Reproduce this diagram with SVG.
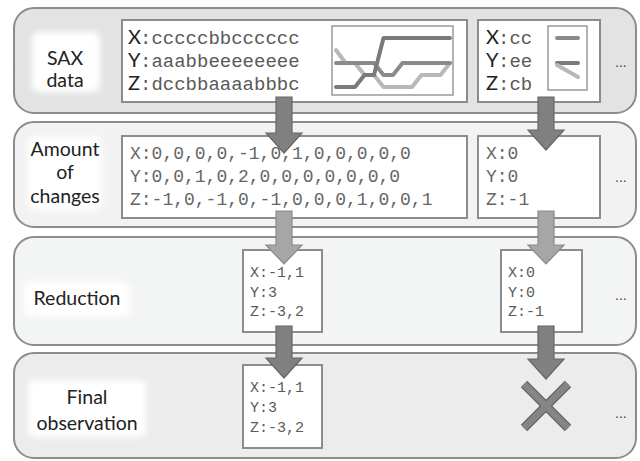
<svg xmlns="http://www.w3.org/2000/svg" width="640" height="461" viewBox="0 0 640 461">
  <defs>
    <filter id="glow" x="-20%" y="-20%" width="140%" height="140%">
      <feGaussianBlur stdDeviation="3"/>
    </filter>
    <style>
      .panel { stroke: #8c8c8c; stroke-width: 2; }
      .box { fill: #ffffff; stroke: #8c8c8c; stroke-width: 2; }
      .halo { fill: #ffffff; filter: url(#glow); }
      .label { font-family: Lato, "Open Sans", "Liberation Sans", sans-serif; font-size: 19.5px; fill: #222; text-anchor: middle; }
      .key { font-family: Lato, "Liberation Sans", sans-serif; font-size: 20px; fill: #222; }
      .mono1 { font-family: "Liberation Mono", monospace; font-size: 19px; fill: #5a5a5a; }
      .mono2 { font-family: "Liberation Mono", monospace; font-size: 18px; fill: #666; }
      .mono3 { font-family: "Liberation Mono", monospace; font-size: 15px; fill: #5a5a5a; }
      .dots { font-family: "Liberation Sans", sans-serif; font-size: 14px; fill: #444; }
      .arrow-dark { fill: #808080; stroke: #666; stroke-width: 1.2; }
      .arrow-light { fill: #a6a6a6; stroke: #8a8a8a; stroke-width: 1.2; }
      .series { fill: none; stroke-width: 4; stroke-linejoin: round; stroke-linecap: round; }
    </style>
  </defs>

  <!-- stage bands -->
  <g id="stage-sax">
    <rect class="panel" x="14" y="8" width="622" height="105" rx="20" fill="#e3e3e3"/>
    <rect class="halo" x="32" y="32" width="68" height="60" rx="6"/>
    <text class="label" x="65" y="65">SAX</text>
    <text class="label" x="65" y="87">data</text>
  </g>
  <g id="stage-changes">
    <rect class="panel" x="14" y="122" width="622" height="105" rx="20" fill="#f2f2f2"/>
    <rect class="halo" x="28" y="137" width="74" height="73" rx="6"/>
    <text class="label" x="65" y="156">Amount</text>
    <text class="label" x="65" y="179">of</text>
    <text class="label" x="65" y="203">changes</text>
  </g>
  <g id="stage-reduction">
    <rect class="panel" x="14" y="237" width="622" height="108" rx="20" fill="#f3f4f4"/>
    <rect class="halo" x="24" y="282" width="106" height="34" rx="6"/>
    <text class="label" x="77" y="305">Reduction</text>
  </g>
  <g id="stage-final">
    <rect class="panel" x="14" y="353" width="622" height="105" rx="20" fill="#ececec"/>
    <rect class="halo" x="28" y="380" width="118" height="57" rx="6"/>
    <text class="label" x="87" y="404">Final</text>
    <text class="label" x="87" y="430">observation</text>
  </g>

  <!-- SAX words, first window -->
  <g id="sax-window-1">
    <rect class="box" x="122" y="20" width="345" height="82"/>
    <text class="key" x="128" y="44">X</text><text class="mono1" x="140" y="44">:cccccbbcccccc</text>
    <text class="key" x="128" y="67">Y</text><text class="mono1" x="140" y="67">:aaabbeeeeeeee</text>
    <text class="key" x="128" y="90">Z</text><text class="mono1" x="140" y="90">:dccbbaaaabbbc</text>
    <rect x="332" y="26" width="121" height="69" fill="#ffffff" stroke="#999" stroke-width="1.5"/>
    <polyline class="series" stroke="#b8b8b8" points="336,50 345.5,63 355,63 364.5,75 374,75 383.5,87 412,87 421.5,75 440.5,75 450,63"/>
    <polyline class="series" stroke="#8a8a8a" points="336,63 374,63 383.5,75 393,75 402.5,63 450,63"/>
    <polyline class="series" stroke="#7a7a7a" points="336,87 355,87 364.5,75 374,75 383.5,38 450,38"/>
  </g>

  <!-- SAX words, second window -->
  <g id="sax-window-2">
    <rect class="box" x="478" y="20" width="122" height="82"/>
    <text class="key" x="486" y="44">X</text><text class="mono1" x="498" y="44">:cc</text>
    <text class="key" x="486" y="67">Y</text><text class="mono1" x="498" y="67">:ee</text>
    <text class="key" x="486" y="90">Z</text><text class="mono1" x="498" y="90">:cb</text>
    <rect x="548" y="26" width="39" height="64" fill="#ffffff" stroke="#999" stroke-width="1.5"/>
    <line class="series" stroke="#8a8a8a" x1="557" y1="38" x2="578" y2="38"/>
    <line class="series" stroke="#7a7a7a" x1="557" y1="63" x2="578" y2="63"/>
    <line class="series" stroke="#b8b8b8" x1="557" y1="65" x2="578" y2="77"/>
    <text class="dots" x="615" y="67">...</text>
  </g>

  <!-- change counts -->
  <g id="changes-window-1">
    <rect class="box" x="122" y="136" width="345" height="82"/>
    <text class="mono2" x="130" y="159">X:0,0,0,0,-1,0,1,0,0,0,0,0</text>
    <text class="mono2" x="130" y="182">Y:0,0,1,0,2,0,0,0,0,0,0,0</text>
    <text class="mono2" x="130" y="205">Z:-1,0,-1,0,-1,0,0,0,1,0,0,1</text>
  </g>
  <g id="changes-window-2">
    <rect class="box" x="478" y="136" width="122" height="82"/>
    <text class="mono2" x="486" y="159">X:0</text>
    <text class="mono2" x="486" y="182">Y:0</text>
    <text class="mono2" x="486" y="205">Z:-1</text>
    <text class="dots" x="615" y="182">...</text>
  </g>

  <!-- reduced counts -->
  <g id="reduction-window-1">
    <rect class="box" x="243" y="250" width="79" height="82"/>
    <text class="mono3" x="250" y="277">X:-1,1</text>
    <text class="mono3" x="250" y="297">Y:3</text>
    <text class="mono3" x="250" y="316">Z:-3,2</text>
  </g>
  <g id="reduction-window-2">
    <rect class="box" x="501" y="250" width="81" height="82"/>
    <text class="mono3" x="508" y="277">X:0</text>
    <text class="mono3" x="508" y="297">Y:0</text>
    <text class="mono3" x="508" y="316">Z:-1</text>
    <text class="dots" x="615" y="300">...</text>
  </g>

  <!-- final observations -->
  <g id="final-window-1">
    <rect class="box" x="243" y="365" width="79" height="83"/>
    <text class="mono3" x="250" y="392">X:-1,1</text>
    <text class="mono3" x="250" y="412">Y:3</text>
    <text class="mono3" x="250" y="432">Z:-3,2</text>
  </g>
  <g id="final-window-2">
    <line x1="524" y1="384" x2="568" y2="428" stroke="#666" stroke-width="9"/>
    <line x1="568" y1="384" x2="524" y2="428" stroke="#666" stroke-width="9"/>
    <line x1="524" y1="384" x2="568" y2="428" stroke="#858585" stroke-width="6.5"/>
    <line x1="568" y1="384" x2="524" y2="428" stroke="#858585" stroke-width="6.5"/>
    <text class="dots" x="615" y="418">...</text>
  </g>

  <!-- flow arrows between stages -->
  <g id="connectors">
    <path class="arrow-dark" d="M276,97 H292 V133 H302 L284,153 L266,133 H276 Z"/>
    <path class="arrow-dark" d="M538,97 H554 V130 H564 L546,150 L528,130 H538 Z"/>
    <path class="arrow-light" d="M276,211 H292 V245 H302 L284,264 L266,245 H276 Z"/>
    <path class="arrow-light" d="M538,211 H554 V245 H564 L546,264 L528,245 H538 Z"/>
    <path class="arrow-dark" d="M276,326 H292 V358 H302 L284,378 L266,358 H276 Z"/>
    <path class="arrow-dark" d="M538,326 H554 V359 H564 L546,379 L528,359 H538 Z"/>
  </g>
</svg>
